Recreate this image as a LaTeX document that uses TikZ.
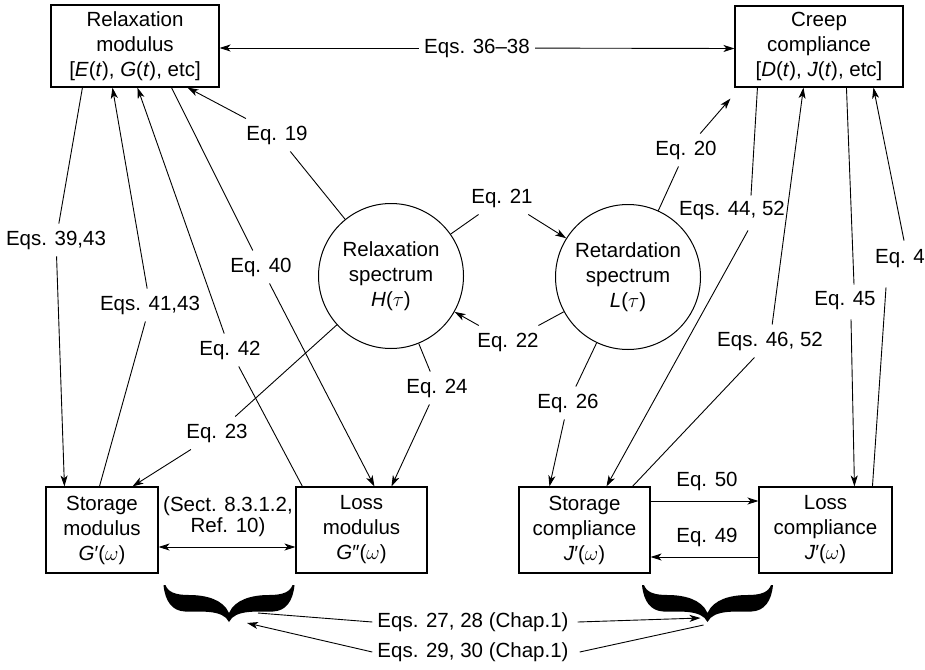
\documentclass[tikz,border=0pt]{standalone}
\usepackage{fontspec}
\setmainfont{Liberation Sans}
\usetikzlibrary{arrows.meta}
\begin{document}
\begin{tikzpicture}[x=1pt,y=-1pt,
  every node/.style={font=\fontsize{20.5}{25}\selectfont},
  box/.style={draw,line width=1.1pt,align=center,inner sep=0pt},
  spec/.style={draw,circle,line width=1pt,minimum size=145pt,align=center,inner sep=0pt},
  lab/.style={inner xsep=5pt,inner ysep=7pt},
  con/.style={line width=0.9pt},
  arr/.style={con,-{Stealth[length=11pt,width=7pt,inset=3pt]}},
  darr/.style={con,{Stealth[length=11pt,width=7pt,inset=3pt]}-{Stealth[length=11pt,width=7pt,inset=3pt]}},
  wbrace/.pic={
    \fill (-65.5,-37) .. controls (-64,-21) and (-57,-11) .. (-44,-10.5)
      .. controls (-30,-10) and (-6,-13) .. (0,0)
      .. controls (6,-13) and (30,-10) .. (44,-10.5)
      .. controls (57,-11) and (64,-21) .. (65.5,-37) -- (63.5,-37)
      .. controls (61,-30) and (54,-27) .. (40,-27)
      .. controls (24,-27) and (6,-23) .. (0,-9)
      .. controls (-6,-23) and (-24,-27) .. (-40,-27)
      .. controls (-54,-27) and (-61,-30) .. (-63.5,-37) -- cycle;
  }
]
\useasboundingbox (0,0) rectangle (925,669);

% boxes
\node[box,minimum width=168pt,minimum height=82pt] (R) at (135,46)
  {Relaxation\\modulus\\{[}\textit{E}(\textit{t}), \textit{G}(\textit{t}), etc{]}};
\node[box,minimum width=168pt,minimum height=81pt] (C) at (819,46.5)
  {Creep\\compliance\\{[}\textit{D}(\textit{t}), \textit{J}(\textit{t}), etc{]}};
\node[box,minimum width=112pt,minimum height=86pt] (SM) at (102,530)
  {Storage\\modulus\\\textit{G}′($\omega$)};
\node[box,minimum width=131pt,minimum height=86pt] (LM) at (361.5,530)
  {Loss\\modulus\\\textit{G}″($\omega$)};
\node[box,minimum width=131pt,minimum height=86pt] (SC) at (584.5,530)
  {Storage\\compliance\\\textit{J}′($\omega$)};
\node[box,minimum width=133pt,minimum height=86pt] (LC) at (825.5,530)
  {Loss\\compliance\\\textit{J}′($\omega$)};

% spectra
\node[spec] (H) at (391,276) {Relaxation\\spectrum\\\textit{H}($\tau$)};
\node[spec] (Lc) at (628,277) {Retardation\\spectrum\\\textit{L}($\tau$)};

% labels
\node[lab] (L3638) at (477,48) {Eqs. 36--38};
\node[lab] (L19) at (277,135) {Eq. 19};
\node[lab] (L20) at (686,150) {Eq. 20};
\node[lab] (L21) at (502,198) {Eq. 21};
\node[lab] (L22) at (508,342) {Eq. 22};
\node[lab] (L23) at (217,433) {Eq. 23};
\node[lab] (L24) at (437,388) {Eq. 24};
\node[lab] (L26) at (568,403) {Eq. 26};
\node[lab] (L3943) at (56,240) {Eqs. 39,43};
\node[lab] (L4143) at (150,305) {Eqs. 41,43};
\node[lab] (L40) at (261,267) {Eq. 40};
\node[lab] (L42) at (230,350) {Eq. 42};
\node[lab] (L4452) at (732,210) {Eqs. 44, 52};
\node[lab] (L4652) at (770,341) {Eqs. 46, 52};
\node[lab] (L45) at (845,301) {Eq. 45};
\node[lab] (L4) at (900,259) {Eq. 4};
\node[lab,align=center,font=\fontsize{20.5}{21}\selectfont] (LS) at (228,517) {(Sect. 8.3.1.2,\\Ref. 10)};
\node[lab] (L50) at (707,481) {Eq. 50};
\node[lab] (L49) at (707,537) {Eq. 49};
\node[lab] (L2728) at (473,622) {Eqs. 27, 28 (Chap.1)};
\node[lab] (L2930) at (473,652) {Eqs. 29, 30 (Chap.1)};

% braces
\coordinate (BL) at (229,622);
\coordinate (BR) at (707.5,622);
\pic at (BL) {wbrace};
\pic at (BR) {wbrace};

% connectors
\draw[arr] (L3638) -- ([yshift=-2pt]R.east);
\draw[arr] (L3638) -- ([yshift=-2pt]C.west);
\draw[arr] ([xshift=32pt]R.south west) -- (L3943) -- ([xshift=19pt]SM.north west);
\draw[arr] ([xshift=54pt]SM.north west) -- (L4143) -- ([xshift=62pt]R.south west);
\draw[arr] ([xshift=7pt]LM.north west) -- (L42) -- ([xshift=87pt]R.south west);
\draw[arr] ([xshift=121pt]R.south west) -- (L40) -- ([xshift=79pt]LM.north west);
\draw[arr] (H) -- (L19) -- ([xshift=137pt]R.south west);
\draw[arr] (H) -- (L23) -- ([xshift=87pt]SM.north west);
\draw[arr] (H) -- (L24) -- ([xshift=96pt]LM.north west);
\draw[arr] (H) -- (L21) -- (Lc);
\draw[arr] (Lc) -- (L22) -- (H);
\draw[arr] (Lc) -- (L20) -- ([shift={(-4,11)}]C.south west);
\draw[arr] (Lc) -- (L26) -- ([xshift=31pt]SC.north west);
\draw[con] ([xshift=23pt]C.south west) -- ([shift={(19,2)}]L4452.north);
\draw[arr] ([shift={(16,4)}]L4452.south) -- ([xshift=88pt]SC.north west);
\draw[arr] ([xshift=114pt]SC.north west) -- (L4652) -- ([xshift=69pt]C.south west);
\draw[con] ([xshift=112pt]C.south west) -- ([shift={(9,0)}]L45.north);
\draw[arr] ([shift={(6,2)}]L45.south) -- ([xshift=96pt]LC.north west);
\draw[con] ([xshift=114pt]LC.north west) -- ([shift={(-14,12)}]L4.south);
\draw[arr] ([shift={(4,-2)}]L4.north) -- ([xshift=139pt]C.south west);
\draw[darr] ([yshift=-17pt]SM.east) -- ([yshift=-17pt]LM.west);
\draw[arr] ([yshift=29pt]SC.east) -- ([yshift=29pt]LC.west);
\draw[arr] ([yshift=-27pt]LC.west) -- ([yshift=-27pt]SC.east);
\draw[con] ([shift={(29,-9)}]BL) -- (L2728.west);
\draw[arr] ([xshift=4pt]L2728.east) -- ([shift={(-7,-4)}]BR);
\draw[con] ([shift={(-4,3)}]BR) -- ([xshift=6pt]L2930.east);
\draw[arr] (L2930.west) -- ([shift={(18,1)}]BL);
\end{tikzpicture}
\end{document}
